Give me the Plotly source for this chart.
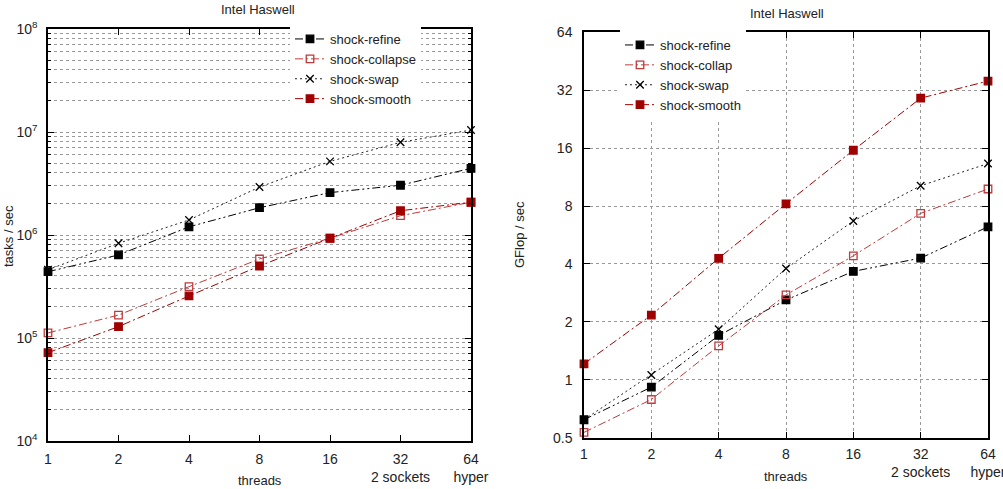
import plotly.graph_objects as go

threads = [1, 2, 4, 8, 16, 32, 64]
tick_text = ["1", "2", "4", "8", "16", "32<br>2 sockets", "64<br>hyper"]

# Left panel: tasks / sec
tasks_refine = [4.4e5, 6.4e5, 1.2e6, 1.84e6, 2.58e6, 3.04e6, 4.44e6]
tasks_collapse = [1.12e5, 1.67e5, 3.15e5, 5.85e5, 9.3e5, 1.54e6, 2.08e6]
tasks_swap = [4.6e5, 8.3e5, 1.4e6, 2.92e6, 5.19e6, 7.94e6, 1.045e7]
tasks_smooth = [7.2e4, 1.29e5, 2.56e5, 5.0e5, 9.3e5, 1.72e6, 2.08e6]

# Right panel: GFlop / sec
gf_refine = [0.62, 0.916, 1.70, 2.6, 3.66, 4.29, 6.24]
gf_collap = [0.533, 0.79, 1.50, 2.76, 4.41, 7.33, 9.81]
gf_swap = [0.62, 1.06, 1.83, 3.79, 6.69, 10.2, 13.3]
gf_smooth = [1.21, 2.17, 4.28, 8.22, 15.6, 29.1, 35.7]

left_ticks = [1e4, 1e5, 1e6, 1e7, 1e8]
left_ticktext = ["10<sup>4</sup>", "10<sup>5</sup>", "10<sup>6</sup>", "10<sup>7</sup>", "10<sup>8</sup>"]
right_ticks = [0.5, 1, 2, 4, 8, 16, 32, 64]
right_ticktext = ["0.5", "1", "2", "4", "8", "16", "32", "64"]

W, H = 1003, 489
BLACK = "#000000"
RED_LIGHT = "#c0393b"
RED_DARK = "#a00000"
FONT = "Liberation Sans, Arial, sans-serif"
TXT = "#222222"

def px_x(p):
    return p / W

def px_y(p):
    return 1 - p / H

styles = {
    "refine": dict(color=BLACK, dash="8px,3px,2px,3px,2px,3px", symbol="square", mcolor=BLACK),
    "collapse": dict(color=RED_LIGHT, dash="8px,3px,2px,3px", symbol="square-open", mcolor=RED_LIGHT),
    "swap": dict(color="#222222", dash="2px,3px", symbol="x-thin-open", mcolor=BLACK),
    "smooth": dict(color=RED_DARK, dash="8px,3px,2px,3px", symbol="square", mcolor=RED_DARK),
}

fig = go.Figure()

def add(name, ys, key, xa, ya, legend):
    s = styles[key]
    fig.add_trace(go.Scatter(
        x=threads, y=ys, name=name, mode="lines+markers",
        line=dict(color=s["color"], width=1, dash=s["dash"]),
        marker=dict(symbol=s["symbol"], size=7.5, color=s["mcolor"],
                    line=dict(color=s["mcolor"], width=1.3)),
        xaxis=xa, yaxis=ya, legend=legend, cliponaxis=False,
    ))

add("shock-refine", tasks_refine, "refine", "x", "y", "legend")
add("shock-collapse", tasks_collapse, "collapse", "x", "y", "legend")
add("shock-swap", tasks_swap, "swap", "x", "y", "legend")
add("shock-smooth", tasks_smooth, "smooth", "x", "y", "legend")

add("shock-refine", gf_refine, "refine", "x2", "y2", "legend2")
add("shock-collap", gf_collap, "collapse", "x2", "y2", "legend2")
add("shock-swap", gf_swap, "swap", "x2", "y2", "legend2")
add("shock-smooth", gf_smooth, "smooth", "x2", "y2", "legend2")

minor_left = [m * 10 ** e for e in range(4, 8) for m in range(2, 10)]

axis_common = dict(
    showline=True, linecolor=BLACK, linewidth=1.5, mirror="allticks",
    ticks="inside", tickcolor=BLACK, ticklen=6,
    tickfont=dict(family=FONT, size=14, color=TXT),
    zeroline=False, automargin=False, ticklabeloverflow="allow",
)

fig.update_layout(
    width=W, height=H,
    margin=dict(l=0, r=0, t=0, b=0, autoexpand=False),
    paper_bgcolor="white", plot_bgcolor="white",
    font=dict(family=FONT, size=13, color=TXT),
    xaxis=dict(
        axis_common, type="log", range=[0, 1.80618],
        domain=[px_x(48), px_x(471)], anchor="y",
        tickvals=threads, ticktext=tick_text, showgrid=False,
        ticklabelstandoff=4,
    ),
    yaxis=dict(
        axis_common, type="log", range=[4, 8],
        domain=[px_y(441), px_y(29)], anchor="x",
        tickvals=left_ticks, ticktext=left_ticktext,
        showgrid=True, gridcolor="#999", griddash="dot", gridwidth=1,
        ticklabelstandoff=6,
        minor=dict(tickvals=minor_left, ticks="inside", ticklen=3, tickcolor=BLACK,
                   showgrid=True, gridcolor="#999", griddash="dot", gridwidth=1),
    ),
    xaxis2=dict(
        axis_common, type="log", range=[0, 1.80618],
        domain=[px_x(584), px_x(988)], anchor="y2",
        tickvals=threads, ticktext=tick_text,
        showgrid=True, gridcolor="#999", griddash="dot", gridwidth=1,
        ticklabelstandoff=3,
    ),
    yaxis2=dict(
        axis_common, type="log", range=[-0.30103, 1.80618],
        domain=[px_y(437.7), px_y(32.3)], anchor="x2",
        tickvals=right_ticks, ticktext=right_ticktext,
        showgrid=True, gridcolor="#999", griddash="dot", gridwidth=1,
        ticklabelstandoff=7,
    ),
    legend=dict(
        x=px_x(290), y=px_y(24), xanchor="left", yanchor="top",
        bgcolor="white", borderwidth=0, font=dict(family=FONT, size=13, color=TXT),
        tracegroupgap=0,
    ),
    legend2=dict(
        x=px_x(620), y=px_y(30), xanchor="left", yanchor="top",
        bgcolor="white", borderwidth=0, font=dict(family=FONT, size=13, color=TXT),
        tracegroupgap=0,
    ),
    showlegend=True,
)

ann_font = dict(family=FONT, size=13, color=TXT)

def label(text, x, y, angle=0):
    fig.add_annotation(text=text, x=px_x(x), y=px_y(y), xref="paper", yref="paper",
                       xanchor="center", yanchor="middle", showarrow=False,
                       textangle=angle, font=ann_font)

label("Intel Haswell", 258, 9)
label("Intel Haswell", 787, 13)
label("threads", 260, 480)
label("threads", 786, 476)
label("tasks / sec", 8, 236, -90)
label("GFlop / sec", 520, 235, -90)

fig.write_html("out.html")
